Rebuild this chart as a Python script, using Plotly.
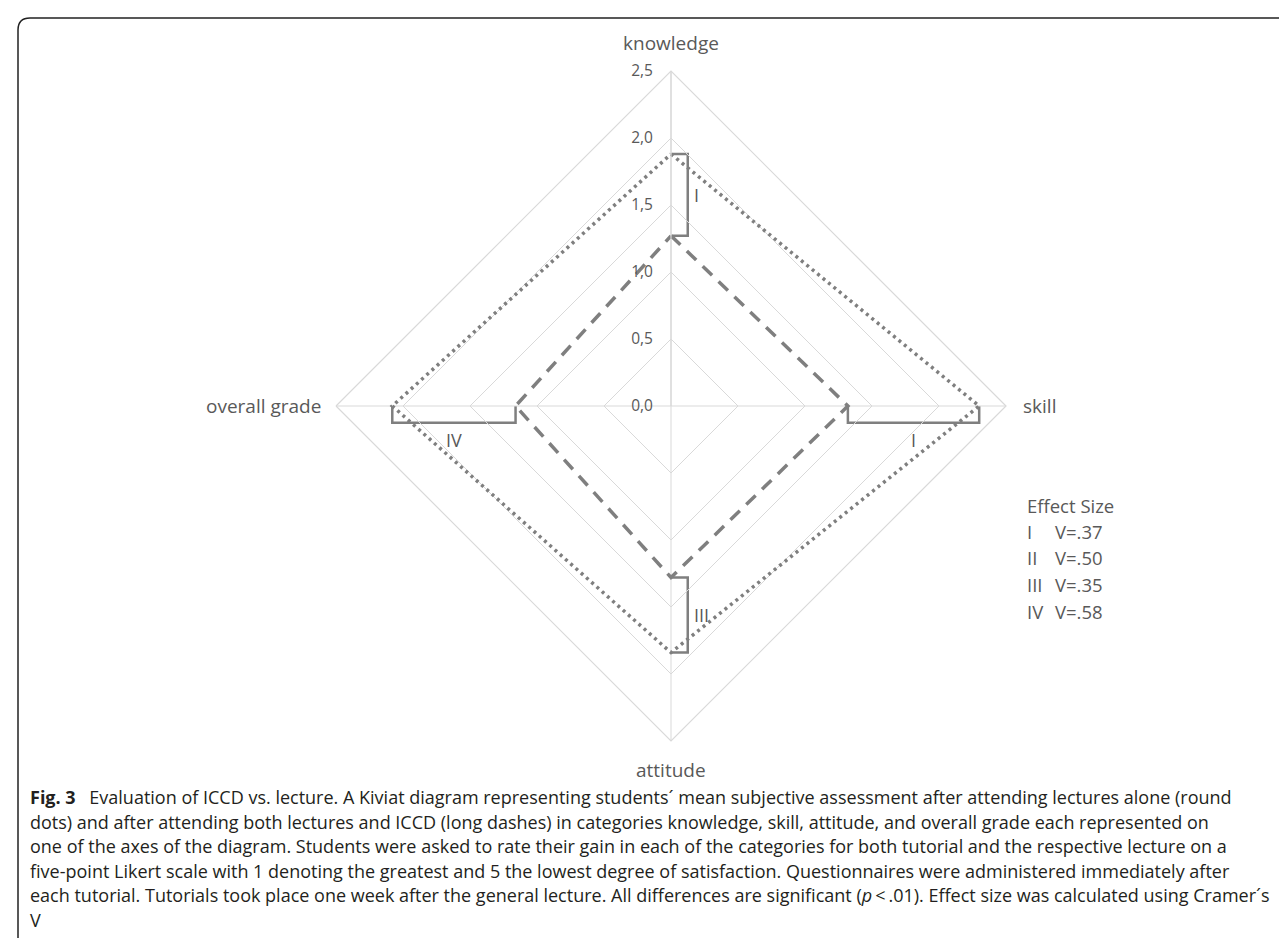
import plotly.graph_objects as go

# ---------------- data ----------------
categories = ["knowledge", "skill", "attitude", "overall grade"]
lecture_alone = [1.88, 2.30, 1.84, 2.08]       # round dots
lecture_and_iccd = [1.27, 1.32, 1.28, 1.16]    # long dashes
radial_tickvals = [0.0, 0.5, 1.0, 1.5, 2.0, 2.5]
radial_ticktext = ["0,0", "0,5", "1,0", "1,5", "2,0", "2,5"]
bracket_labels = ["I", "I", "III", "IV"]
effect_title = "Effect Size"
effect_numerals = ["I", "II", "III", "IV"]
effect_values = ["V=.37", "V=.50", "V=.35", "V=.58"]
caption_lines = [
    "<b>Fig. 3</b>\u2002 Evaluation of ICCD vs. lecture. A Kiviat diagram representing students\u00b4 mean subjective assessment after attending lectures alone (round",
    "dots) and after attending both lectures and ICCD (long dashes) in categories knowledge, skill, attitude, and overall grade each represented on",
    "one of the axes of the diagram. Students were asked to rate their gain in each of the categories for both tutorial and the respective lecture on a",
    "five-point Likert scale with 1 denoting the greatest and 5 the lowest degree of satisfaction. Questionnaires were administered immediately after",
    "each tutorial. Tutorials took place one week after the general lecture. All differences are significant (<i>p</i>\u2009<\u2009.01). Effect size was calculated using Cramer\u00b4s",
    "V",
]

# ---------------- layout helpers ----------------
W, H = 1287, 938
CX, CY, R = 663, 398, 335
RMAX = 2.5


def px(x):
    return x / W


def py(y):
    return 1 - y / H


GRAY = "#7f7f7f"
GRID = "#d9d9d9"
TEXT = "#595959"
FONT = "Open Sans"

fig = go.Figure()

theta = categories + [categories[0]]
fig.add_trace(go.Scatterpolar(
    r=lecture_alone + [lecture_alone[0]], theta=theta, mode="lines",
    line=dict(color=GRAY, width=3.5, dash="3px,4px"), hoverinfo="skip"))
fig.add_trace(go.Scatterpolar(
    r=lecture_and_iccd + [lecture_and_iccd[0]], theta=theta, mode="lines",
    line=dict(color=GRAY, width=3.5, dash="13px,9px"), hoverinfo="skip"))

# significance brackets drawn on an overlaid cartesian frame with the same scale
dirs = [(0, 1), (1, 0), (0, -1), (-1, 0)]
perp = [(1, 0), (0, -1), (1, 0), (0, -1)]
off = 0.125
annotations = []
for i in range(len(categories)):
    dx, dy = dirs[i]
    ox, oy = perp[i]
    a, b = lecture_alone[i], lecture_and_iccd[i]
    xs = [a * dx, a * dx + ox * off, b * dx + ox * off, b * dx]
    ys = [a * dy, a * dy + oy * off, b * dy + oy * off, b * dy]
    fig.add_trace(go.Scatter(x=xs, y=ys, mode="lines", xaxis="x", yaxis="y",
                             line=dict(color=GRAY, width=2.5), hoverinfo="skip"))
    m = (a + b) / 2
    if ox != 0:
        annotations.append(dict(x=m * dx + ox * (off + 0.035), y=m * dy, xref="x", yref="y",
                                text=bracket_labels[i], showarrow=False, xanchor="left",
                                yanchor="middle", font=dict(size=18, color=TEXT, family=FONT)))
    else:
        annotations.append(dict(x=m * dx, y=m * dy + oy * (off + 0.025), xref="x", yref="y",
                                text=bracket_labels[i], showarrow=False, xanchor="center",
                                yanchor="top", font=dict(size=18, color=TEXT, family=FONT)))

# category labels
lab_font = dict(size=19, color=TEXT, family=FONT)
annotations += [
    dict(x=px(CX), y=py(35), xref="paper", yref="paper", text=categories[0], showarrow=False,
         xanchor="center", yanchor="middle", font=lab_font),
    dict(x=px(1013), y=py(CY), xref="paper", yref="paper", text=categories[1], showarrow=False,
         xanchor="left", yanchor="middle", font=lab_font),
    dict(x=px(CX), y=py(762), xref="paper", yref="paper", text=categories[2], showarrow=False,
         xanchor="center", yanchor="middle", font=lab_font),
    dict(x=px(315), y=py(CY), xref="paper", yref="paper", text=categories[3], showarrow=False,
         xanchor="right", yanchor="middle", font=lab_font),
]

# effect size legend
eff_font = dict(size=18.5, color=TEXT, family=FONT)
annotations.append(dict(x=px(1017), y=py(497), xref="paper", yref="paper", text=effect_title,
                        showarrow=False, xanchor="left", yanchor="middle", font=eff_font))
for k in range(len(effect_numerals)):
    yy = 523 + k * 26.7
    annotations.append(dict(x=px(1017), y=py(yy), xref="paper", yref="paper",
                            text=effect_numerals[k], showarrow=False, xanchor="left",
                            yanchor="middle", font=eff_font))
    annotations.append(dict(x=px(1045), y=py(yy), xref="paper", yref="paper",
                            text=effect_values[k], showarrow=False, xanchor="left",
                            yanchor="middle", font=eff_font))

# caption
cap_font = dict(size=18, color="#231f20", family=FONT)
for k, line in enumerate(caption_lines):
    annotations.append(dict(x=px(20), y=py(789 + k * 24.6), xref="paper", yref="paper",
                            text=line, showarrow=False, xanchor="left", yanchor="middle",
                            font=cap_font))

dom_x = [px(CX - R), px(CX + R)]
dom_y = [py(CY + R), py(CY - R)]

fig.update_layout(
    width=W, height=H,
    margin=dict(l=0, r=0, t=0, b=0),
    paper_bgcolor="white", plot_bgcolor="rgba(0,0,0,0)",
    showlegend=False,
    separators=", ",
    font=dict(family=FONT, color=TEXT),
    polar=dict(
        domain=dict(x=dom_x, y=dom_y),
        bgcolor="rgba(0,0,0,0)",
        gridshape="linear",
        radialaxis=dict(range=[0, RMAX], tickvals=radial_tickvals, ticktext=radial_ticktext,
                        angle=90, side="counterclockwise", tickangle=90,
                        showline=True, linecolor=GRID, linewidth=1.2,
                        gridcolor=GRID, gridwidth=1.2,
                        ticks="outside", ticklen=12, tickcolor="rgba(0,0,0,0)",
                        tickfont=dict(size=15.5, color=TEXT, family=FONT)),
        angularaxis=dict(rotation=90, direction="clockwise", showticklabels=False, ticks="",
                         showline=True, linecolor=GRID, linewidth=1.2,
                         gridcolor=GRID, gridwidth=1.2),
    ),
    xaxis=dict(domain=dom_x, range=[-RMAX, RMAX], visible=False, fixedrange=True),
    yaxis=dict(domain=dom_y, range=[-RMAX, RMAX], visible=False, fixedrange=True),
    annotations=annotations,
    shapes=[dict(type="path", xref="paper", yref="paper",
                 path=f"M {px(10)},{py(H + 20)} L {px(10)},{py(22)} Q {px(10)},{py(10)} {px(22)},{py(10)} L {px(W + 20)},{py(10)}",
                 line=dict(color="#222222", width=1.5))],
)

fig.write_html("out.html")
